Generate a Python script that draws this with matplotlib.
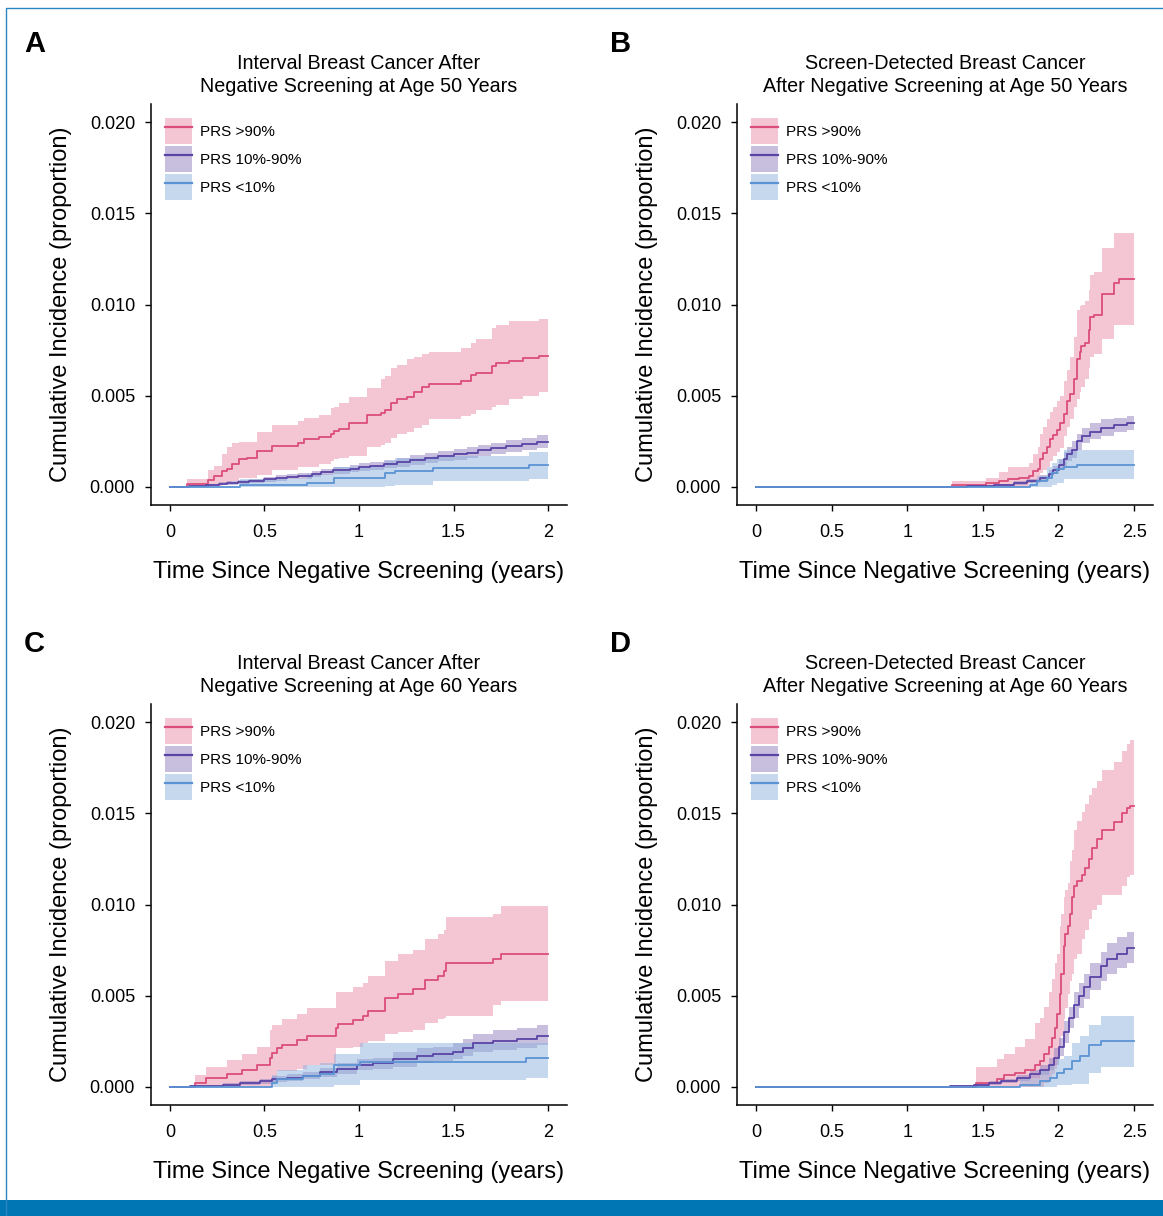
import matplotlib
matplotlib.use("Agg")
import matplotlib.pyplot as plt
from matplotlib.patches import Patch, Rectangle
from matplotlib.lines import Line2D
from matplotlib import font_manager

# --- 数据 ---
# A: interval cancer, age 50
a_hi_t = [0, 0.088, 0.203, 0.233, 0.273, 0.303, 0.326, 0.367, 0.409, 0.459, 0.541, 0.679, 0.709, 0.788, 0.85,
          0.87, 0.896, 0.949, 1.041, 1.115, 1.138, 1.168, 1.203, 1.252, 1.291, 1.332, 1.372, 1.54, 1.591, 1.619,
          1.702, 1.725, 1.795, 1.869, 1.954]
a_hi_est = [0, 0.00015, 0.00037, 0.0006, 0.00088, 0.001, 0.00123, 0.0015, 0.00156, 0.00196, 0.00225, 0.00242,
            0.0026, 0.00275, 0.00289, 0.00306, 0.00319, 0.00348, 0.00394, 0.00403, 0.00421, 0.00458, 0.00484,
            0.00495, 0.00522, 0.00546, 0.00564, 0.00582, 0.00612, 0.00626, 0.00665, 0.00678, 0.00692, 0.00705, 0.0072]
a_hi_up = [0, 0.00042, 0.00092, 0.00115, 0.0018, 0.0022, 0.0024, 0.00247, 0.00247, 0.003, 0.0034, 0.00363,
           0.00375, 0.00394, 0.0043, 0.0044, 0.00458, 0.0049, 0.0054, 0.0059, 0.0061, 0.0065, 0.0067, 0.007,
           0.0071, 0.0073, 0.0074, 0.0076, 0.0079, 0.0081, 0.0087, 0.0089, 0.0091, 0.0091, 0.0092]
a_hi_lo = [0, 0, 0, 0.00005, 0.0002, 0.00025, 0.0003, 0.00046, 0.0005, 0.00064, 0.0009, 0.00106, 0.0011,
           0.00123, 0.0014, 0.0015, 0.0016, 0.0017, 0.0022, 0.0023, 0.0024, 0.0027, 0.0029, 0.003, 0.0032,
           0.0034, 0.0037, 0.0039, 0.004, 0.0042, 0.0044, 0.0045, 0.0048, 0.005, 0.0052]

a_mid_t = [0, 0.1, 0.19, 0.26, 0.3, 0.36, 0.42, 0.5, 0.56, 0.62, 0.68, 0.75, 0.8, 0.86, 0.95, 1.0, 1.06, 1.13,
           1.2, 1.27, 1.35, 1.42, 1.5, 1.57, 1.63, 1.7, 1.78, 1.86, 1.94]
a_mid_est = [0, 0.00003, 0.0001, 0.00017, 0.0002, 0.00026, 0.00032, 0.0004, 0.00048, 0.00055, 0.0006, 0.0007,
             0.0008, 0.0009, 0.001, 0.00107, 0.00115, 0.00125, 0.00135, 0.00146, 0.00157, 0.00168, 0.00178,
             0.00188, 0.002, 0.0021, 0.00225, 0.00236, 0.00248]
a_mid_up = [0, 0.00006, 0.00016, 0.00025, 0.00029, 0.00036, 0.00043, 0.00053, 0.00062, 0.0007, 0.00076,
            0.00087, 0.00098, 0.0011, 0.0012, 0.00128, 0.00137, 0.00148, 0.0016, 0.00172, 0.00184, 0.00196,
            0.00207, 0.00218, 0.0023, 0.00242, 0.00258, 0.0027, 0.00283]
a_mid_lo = [0, 0.00001, 0.00005, 0.0001, 0.00012, 0.00017, 0.00022, 0.00028, 0.00034, 0.0004, 0.00045,
            0.00053, 0.00062, 0.0007, 0.0008, 0.00086, 0.00093, 0.00102, 0.00111, 0.00121, 0.0013, 0.0014,
            0.00149, 0.00158, 0.00169, 0.00178, 0.00192, 0.00202, 0.00213]

a_lo_t = [0, 0.37, 0.723, 0.868, 1.138, 1.19, 1.393, 1.901]
a_lo_est = [0, 0.0001, 0.00022, 0.0005, 0.00077, 0.00088, 0.00104, 0.0012]
a_lo_up = [0, 0.0004, 0.0007, 0.0011, 0.0014, 0.0016, 0.0017, 0.0019]
a_lo_lo = [0, 0, 0, 0, 0.00005, 0.0001, 0.0003, 0.0004]

# B: screen-detected, age 50
b_hi_t = [0, 1.297, 1.518, 1.606, 1.665, 1.738, 1.804, 1.833, 1.863, 1.881, 1.899, 1.921, 1.943, 1.965, 1.991,
          2.009, 2.035, 2.057, 2.079, 2.101, 2.123, 2.141, 2.15, 2.178, 2.2, 2.211, 2.233, 2.289, 2.366, 2.399]
b_hi_est = [0, 0.00007, 0.0002, 0.00033, 0.00042, 0.00049, 0.0006, 0.00084, 0.001, 0.0015, 0.00185, 0.0022,
            0.0026, 0.00285, 0.0031, 0.0035, 0.004, 0.0047, 0.0051, 0.0059, 0.007, 0.0074, 0.0077, 0.0079,
            0.0086, 0.0093, 0.0094, 0.0106, 0.0112, 0.0114]
b_hi_up = [0, 0.0003, 0.0005, 0.0008, 0.0011, 0.0011, 0.0013, 0.0018, 0.0022, 0.0029, 0.0033, 0.0037, 0.0041,
           0.0044, 0.0047, 0.005, 0.0058, 0.0064, 0.0071, 0.0082, 0.0097, 0.0099, 0.01, 0.0102, 0.0108, 0.0116,
           0.0118, 0.0131, 0.0139, 0.0139]
b_hi_lo = [0, 0, 0, 0, 0, 0, 0.0002, 0.0003, 0.0004, 0.00075, 0.0009, 0.0011, 0.0014, 0.0017, 0.0019, 0.0021,
           0.0028, 0.0033, 0.0037, 0.0044, 0.0048, 0.0052, 0.0055, 0.0059, 0.0065, 0.0071, 0.0073, 0.0081,
           0.0089, 0.0089]

b_mid_t = [0, 1.396, 1.573, 1.705, 1.793, 1.881, 1.936, 1.965, 2.002, 2.035, 2.057, 2.09, 2.123, 2.156, 2.211,
           2.278, 2.366, 2.454]
b_mid_est = [0, 0.00003, 0.0001, 0.0002, 0.0003, 0.0005, 0.0007, 0.0009, 0.0012, 0.0015, 0.0018, 0.002,
             0.0025, 0.0028, 0.003, 0.0032, 0.0034, 0.0035]
b_mid_up = [0, 0.00006, 0.00016, 0.0003, 0.00042, 0.00066, 0.0009, 0.00115, 0.0015, 0.0019, 0.0022, 0.0025,
            0.0029, 0.0032, 0.0035, 0.0037, 0.0038, 0.0039]
b_mid_lo = [0, 0, 0.00005, 0.0001, 0.00018, 0.00034, 0.0005, 0.00068, 0.0009, 0.0011, 0.0014, 0.0016, 0.002,
            0.0024, 0.0026, 0.0028, 0.003, 0.0031]

b_lo_t = [0, 1.815, 1.859, 1.925, 1.958, 1.991, 2.035, 2.123]
b_lo_est = [0, 0.0001, 0.0003, 0.0005, 0.00075, 0.00095, 0.0011, 0.0012]
b_lo_up = [0, 0.0003, 0.0006, 0.0011, 0.0013, 0.0015, 0.002, 0.002]
b_lo_lo = [0, 0, 0, 0, 0.0001, 0.0002, 0.0004, 0.0004]

# C: interval cancer, age 60
c_hi_t = [0, 0.132, 0.19, 0.3, 0.379, 0.459, 0.529, 0.541, 0.564, 0.591, 0.67, 0.727, 0.878, 0.891, 0.97,
          1.019, 1.049, 1.138, 1.208, 1.287, 1.349, 1.416, 1.45, 1.46, 1.707, 1.75]
c_hi_est = [0, 0.0002, 0.00046, 0.0007, 0.00093, 0.00117, 0.00157, 0.00185, 0.0021, 0.0023, 0.00255, 0.00277,
            0.0032, 0.00346, 0.00368, 0.0039, 0.00418, 0.00487, 0.0051, 0.00537, 0.00584, 0.00606, 0.00634,
            0.0068, 0.00703, 0.0073]
c_hi_up = [0, 0.00066, 0.00108, 0.00145, 0.0018, 0.00216, 0.0031, 0.0034, 0.0034, 0.0037, 0.004, 0.0043,
           0.0052, 0.0052, 0.0055, 0.0057, 0.0061, 0.0069, 0.0073, 0.0075, 0.0081, 0.0084, 0.0086, 0.0093,
           0.0095, 0.0099]
c_hi_lo = [0, 0, 0, 0, 0, 0, 0, 0.0002, 0.00084, 0.00084, 0.001, 0.0012, 0.0021, 0.0021, 0.0022, 0.0024,
           0.0025, 0.0029, 0.003, 0.0031, 0.0035, 0.0037, 0.0038, 0.0039, 0.0045, 0.0047]

c_mid_t = [0, 0.106, 0.282, 0.37, 0.476, 0.538, 0.617, 0.705, 0.794, 0.882, 0.988, 1.076, 1.182, 1.305, 1.393,
           1.499, 1.552, 1.605, 1.711, 1.834, 1.94]
c_mid_est = [0, 0.00003, 0.0001, 0.0002, 0.0003, 0.0004, 0.0005, 0.0006, 0.0008, 0.001, 0.0012, 0.0013,
             0.0015, 0.0017, 0.0018, 0.0019, 0.0021, 0.0024, 0.0025, 0.0026, 0.0028]
c_mid_up = [0, 0.00006, 0.00018, 0.00032, 0.00045, 0.00058, 0.0007, 0.00082, 0.00105, 0.0013, 0.0015,
            0.0016, 0.0019, 0.0021, 0.0022, 0.0024, 0.0026, 0.0029, 0.0031, 0.0032, 0.0034]
c_mid_lo = [0, 0, 0.00003, 0.0001, 0.00016, 0.00024, 0.0003, 0.0004, 0.00055, 0.0007, 0.0009, 0.001, 0.0011,
            0.0013, 0.0014, 0.0015, 0.0017, 0.0019, 0.002, 0.0021, 0.0023]

c_lo_t = [0, 0.538, 0.564, 0.705, 0.794, 0.868, 1.005, 1.884]
c_lo_est = [0, 0.0002, 0.0004, 0.00057, 0.0007, 0.00117, 0.00134, 0.00157]
c_lo_up = [0, 0.00065, 0.0009, 0.0012, 0.0013, 0.0018, 0.0024, 0.0024]
c_lo_lo = [0, 0, 0, 0, 0, 0.0001, 0.00035, 0.00048]

# D: screen-detected, age 60
d_hi_t = [0, 1.452, 1.595, 1.639, 1.716, 1.782, 1.848, 1.881, 1.903, 1.936, 1.958, 1.976, 1.991, 2.009, 2.02,
          2.035, 2.046, 2.062, 2.079, 2.09, 2.106, 2.123, 2.156, 2.178, 2.2, 2.222, 2.256, 2.289, 2.366, 2.421,
          2.454, 2.476]
d_hi_est = [0, 0.0002, 0.00044, 0.00066, 0.00075, 0.00093, 0.0012, 0.0014, 0.0018, 0.0022, 0.0027, 0.0032,
            0.004, 0.0051, 0.0062, 0.0077, 0.0084, 0.0088, 0.0095, 0.0104, 0.011, 0.0113, 0.0116, 0.012, 0.0125,
            0.0131, 0.0136, 0.0141, 0.0145, 0.015, 0.0153, 0.0154]
d_hi_up = [0, 0.0011, 0.0015, 0.0018, 0.0022, 0.0026, 0.0035, 0.0038, 0.0044, 0.0052, 0.0059, 0.0068, 0.0073,
           0.0088, 0.0095, 0.0104, 0.0108, 0.0112, 0.0124, 0.013, 0.0141, 0.0146, 0.0151, 0.0155, 0.016, 0.0164,
           0.0168, 0.0174, 0.0178, 0.0184, 0.0188, 0.019]
d_hi_lo = [0, 0, 0, 0, 0, 0, 0, 0, 0.0002, 0.0004, 0.0007, 0.001, 0.0015, 0.0022, 0.0028, 0.0037, 0.0043,
           0.0051, 0.0058, 0.0062, 0.007, 0.0073, 0.0081, 0.0086, 0.0092, 0.0097, 0.01, 0.0105, 0.0105, 0.011,
           0.0115, 0.0116]

d_mid_t = [0, 1.286, 1.441, 1.54, 1.617, 1.727, 1.815, 1.881, 1.936, 1.969, 2.002, 2.035, 2.068, 2.101, 2.134,
           2.167, 2.211, 2.278, 2.322, 2.388, 2.454]
d_mid_est = [0, 0.00003, 0.0001, 0.0002, 0.0003, 0.0005, 0.0007, 0.0009, 0.0012, 0.0016, 0.0022, 0.003,
             0.0038, 0.0045, 0.005, 0.0055, 0.006, 0.0066, 0.007, 0.0073, 0.0076]
d_mid_up = [0, 0.00006, 0.00016, 0.0003, 0.00042, 0.00066, 0.0009, 0.0012, 0.0016, 0.0021, 0.0027, 0.0036,
            0.0044, 0.0052, 0.0057, 0.0062, 0.0068, 0.0074, 0.0079, 0.0082, 0.0085]
d_mid_lo = [0, 0, 0.00005, 0.0001, 0.00018, 0.00034, 0.0005, 0.00065, 0.0009, 0.0012, 0.0017, 0.0024, 0.0032,
            0.0038, 0.0043, 0.0048, 0.0053, 0.0058, 0.0062, 0.0065, 0.0068]

d_lo_t = [0, 1.749, 1.881, 1.947, 1.991, 2.035, 2.09, 2.145, 2.2, 2.278]
d_lo_est = [0, 0.0001, 0.0003, 0.0005, 0.00075, 0.001, 0.0014, 0.0017, 0.0023, 0.0025]
d_lo_up = [0, 0.0005, 0.0009, 0.0012, 0.0015, 0.0017, 0.0024, 0.0028, 0.0034, 0.0039]
d_lo_lo = [0, 0, 0, 0, 0.0001, 0.0001, 0.00015, 0.00015, 0.00075, 0.0011]

group_labels = ['PRS >90%', 'PRS 10%-90%', 'PRS <10%']
line_colors = ['#db4d7b', '#5a45a6', '#5b94d4']
band_colors = ['#eb8da9', '#9381c1', '#8fb3dd']

titles = ['Interval Breast Cancer After\nNegative Screening at Age 50 Years',
          'Screen-Detected Breast Cancer\nAfter Negative Screening at Age 50 Years',
          'Interval Breast Cancer After\nNegative Screening at Age 60 Years',
          'Screen-Detected Breast Cancer\nAfter Negative Screening at Age 60 Years']
letters = ['A', 'B', 'C', 'D']
x_ends = [2.0, 2.5, 2.0, 2.5]
x_ticks = [[0, 0.5, 1, 1.5, 2], [0, 0.5, 1, 1.5, 2, 2.5], [0, 0.5, 1, 1.5, 2], [0, 0.5, 1, 1.5, 2, 2.5]]
x_ticklabels = [['0', '0.5', '1', '1.5', '2'], ['0', '0.5', '1', '1.5', '2', '2.5'],
                ['0', '0.5', '1', '1.5', '2'], ['0', '0.5', '1', '1.5', '2', '2.5']]
y_ticks = [0, 0.005, 0.010, 0.015, 0.020]
y_ticklabels = ['0.000', '0.005', '0.010', '0.015', '0.020']

panels = [
    [(a_hi_t, a_hi_est, a_hi_lo, a_hi_up), (a_mid_t, a_mid_est, a_mid_lo, a_mid_up), (a_lo_t, a_lo_est, a_lo_lo, a_lo_up)],
    [(b_hi_t, b_hi_est, b_hi_lo, b_hi_up), (b_mid_t, b_mid_est, b_mid_lo, b_mid_up), (b_lo_t, b_lo_est, b_lo_lo, b_lo_up)],
    [(c_hi_t, c_hi_est, c_hi_lo, c_hi_up), (c_mid_t, c_mid_est, c_mid_lo, c_mid_up), (c_lo_t, c_lo_est, c_lo_lo, c_lo_up)],
    [(d_hi_t, d_hi_est, d_hi_lo, d_hi_up), (d_mid_t, d_mid_est, d_mid_lo, d_mid_up), (d_lo_t, d_lo_est, d_lo_lo, d_lo_up)],
]

# --- 字体 ---
names = {f.name for f in font_manager.fontManager.ttflist}
narrow = 'Liberation Sans Narrow' if 'Liberation Sans Narrow' in names else 'Liberation Sans'
label_size = 20 if narrow == 'Liberation Sans Narrow' else 17
plt.rcParams['font.family'] = ['Liberation Sans', 'DejaVu Sans']

W, H = 1163, 1216
fig = plt.figure(figsize=(W / 100, H / 100), dpi=100)

# 外框 (左、上) 和底部色条
fig.lines.append(Line2D([5.5 / W, 5.5 / W, 1.0], [0, 1 - 8 / H, 1 - 8 / H], transform=fig.transFigure,
                        color='#2a86c0', lw=1.0))
fig.patches.append(Rectangle((0, 0), 1, 16 / H, transform=fig.transFigure,
                             facecolor='#0077b4', edgecolor='none'))

ax_px = [(151, 104), (737, 104), (151, 704), (737, 704)]  # left, top in px
ax_w, ax_h = 416, 401

for i, (lx, ty) in enumerate(ax_px):
    ax = fig.add_axes([lx / W, 1 - (ty + ax_h) / H, ax_w / W, ax_h / H])
    end = x_ends[i]
    # 置信带
    for k, (t, est, lo, up) in enumerate(panels[i]):
        ax.fill_between(t + [end], lo + [lo[-1]], up + [up[-1]], step='post',
                        color=band_colors[k], alpha=0.5, lw=0)
    # 曲线 (蓝线最后画)
    for k, (t, est, lo, up) in enumerate(panels[i]):
        ax.step(t + [end], est + [est[-1]], where='post', color=line_colors[k], lw=1.3)

    ax.set_xlim(-0.05 * end, 1.05 * end)
    ax.set_ylim(-0.001, 0.021)
    ax.spines['top'].set_visible(False)
    ax.spines['right'].set_visible(False)
    ax.spines['left'].set_linewidth(1.1)
    ax.spines['bottom'].set_linewidth(1.1)
    ax.set_xticks(x_ticks[i])
    ax.set_xticklabels(x_ticklabels[i])
    ax.set_yticks(y_ticks)
    ax.set_yticklabels(y_ticklabels)
    ax.tick_params(axis='both', length=4.5, width=1.0, labelsize=13)
    ax.tick_params(axis='x', pad=9)
    ax.tick_params(axis='y', pad=7)

    ax.set_xlabel('Time Since Negative Screening (years)', fontsize=label_size, family=[narrow, 'DejaVu Sans'])
    ax.set_ylabel('Cumulative Incidence (proportion)', fontsize=label_size, family=[narrow, 'DejaVu Sans'])
    ax.xaxis.set_label_coords(0.5, -0.14)
    ax.yaxis.set_label_coords(-0.19, 0.5)
    ax.set_title(titles[i], fontsize=14.2, pad=8.5, linespacing=1.3)

    handles = [(Patch(facecolor=band_colors[k], alpha=0.5, edgecolor='none'),
                Line2D([], [], color=line_colors[k], lw=1.6)) for k in range(3)]
    ax.legend(handles, group_labels, loc='upper left', bbox_to_anchor=(14 / ax_w, 1 - 14 / ax_h),
              frameon=False, fontsize=11, borderpad=0, borderaxespad=0, handlelength=1.77,
              handleheight=2.24, labelspacing=0.13, handletextpad=0.5)

    fig.text((lx - 127) / W, 1 - (ty - 52) / H, letters[i], fontsize=21, fontweight='bold',
             ha='left', va='baseline')

fig.savefig('out.png', dpi=100)
